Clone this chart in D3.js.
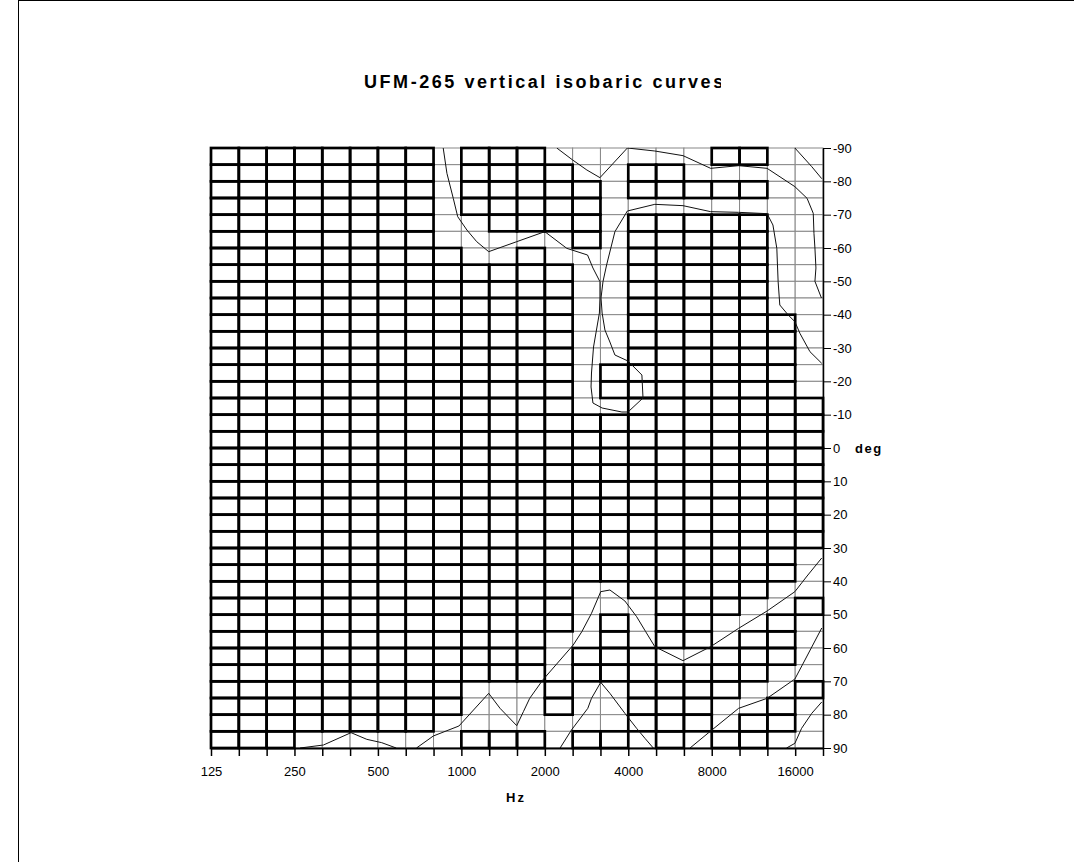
<!DOCTYPE html>
<html>
<head>
<meta charset="utf-8">
<script src="https://cdn.jsdelivr.net/npm/d3@7"></script>
<style>
  body { margin: 0; background: #fff; }
  svg { display: block; font-family: "Liberation Sans", Arial, sans-serif; }
</style>
</head>
<body>
<div id="chart"></div>
<script>
// third-octave frequency nodes (x categories) and angle nodes (y categories)
const freqs = [125, 160, 200, 250, 315, 400, 500, 630, 800, 1000, 1250, 1600, 2000,
    2500, 3150, 4000, 5000, 6300, 8000, 10000, 12500, 16000, 20000];
const freqLabels = [125, 250, 500, 1000, 2000, 4000, 8000, 16000];
const angles = [-90, -85, -80, -75, -70, -65, -60, -55, -50, -45, -40, -35, -30, -25,
    -20, -15, -10, -5, 0, 5, 10, 15, 20, 25, 30, 35, 40, 45, 50, 55, 60, 65, 70, 75, 80, 85, 90];
const angleTicks = [-90, -80, -70, -60, -50, -40, -30, -20, -10, 0, 10, 20, 30, 40, 50, 60, 70, 80, 90];

// band of every cell, one string per 5 deg row, one char per third-octave cell
// "#" = dark band (heavy wire), "." = light band (thin wire)
const cellBands = [
    "########.###......##..",
    "########.####..##.....",
    "########.#####.#####..",
    "########.#####........",
    "########..####.#####..",
    "########.....#.#####..",
    "#########..#...#####..",
    "#############..#####..",
    "#############..#####..",
    "#############..#####..",
    "#############..######.",
    "#############..######.",
    "#############..######.",
    "#############.#######.",
    "#############.#######.",
    "#############..#######",
    "######################",
    "######################",
    "######################",
    "######################",
    "######################",
    "######################",
    "######################",
    "######################",
    "#####################.",
    "#####################.",
    "#############..#####..",
    "#############...###..#",
    "#############.#.##..#.",
    "############..#.##.##.",
    "############.###..###.",
    "############.#######..",
    "#########...#..####..#",
    "#########...#..###..#.",
    "########.......###.##.",
    "###......###.##.#.##.."
];

// isobaric curves: [Hz, deg]
const curveA = [[860, -90], [887, -82.4], [935, -74.9], [970, -69.4], [1047, -65.4], [1136, -61.9],
    [1255, -58.9], [1584, -61.9], [2000, -64.9], [2400, -59.9], [2852, -57.9], [2983, -54],
    [3162, -49.9], [3162, -45], [3147, -40.5], [2997, -30.3], [2947, -22.5], [2936, -18.3],
    [2983, -13.5], [3219, -12], [3793, -10.8], [3990, -10.8], [4521, -15], [4479, -21.9],
    [3990, -26.1], [3580, -27.9], [3434, -31.8], [3295, -35.4], [3219, -40.5], [3190, -45],
    [3242, -49.9], [3341, -54.9], [3580, -64.9], [3970, -71.1], [4987, -73.1], [6303, -72.7],
    [7929, -70.9], [10000, -70.7], [12670, -70.3], [13300, -66.9], [13736, -59.9], [13888, -49.9],
    [14081, -42.9], [15102, -39.9], [15963, -37.9], [16641, -34.4], [18085, -28.9], [19948, -25.4]];
const curveB = [[2209, -90], [2520, -86.4], [2836, -83.4], [3162, -81.1], [3970, -90], [4987, -89.1],
    [6303, -87.7], [7929, -83.9], [10000, -84.7], [12670, -83.9], [15963, -78.4], [17662, -74.9],
    [18592, -70.4], [18700, -64.4], [18851, -60], [19008, -54], [18851, -50], [19900, -45]];
const curveC = [[15963, -90], [18361, -84.4], [19948, -80.8]];
const curveD = [[262, 90], [318, 89.1], [400, 85.4], [456, 87.4], [516, 88.4], [582, 90]];
const curveE = [[689, 90], [792, 86.4], [980, 83.4], [1255, 73.6], [1379, 78.1], [1584, 83.3],
    [1674, 79.1], [1764, 75.1], [1966, 69.6], [2532, 59.1], [2720, 55.1], [2947, 49.6],
    [3182, 43.1], [3434, 42.6], [3890, 45.9], [4287, 50.6], [4622, 55.1], [4987, 59.6],
    [6303, 63.8], [7929, 59.6], [10000, 54.1], [12670, 48.9], [15963, 43.1], [17662, 38.4], [19948, 33]];
const curveF = [[2271, 90], [2495, 84.6], [2858, 78.1], [2947, 75.1], [3182, 70.3], [3434, 73.6],
    [3890, 79.6], [4287, 84.1], [4595, 87.1], [4924, 90]];
const curveG = [[6681, 90], [7929, 84.9], [10000, 78.1], [12670, 75.1], [15963, 69.3], [17352, 63.6], [19948, 54]];
const curveH = [[14892, 90], [15963, 88.6], [16874, 84.1], [18361, 79.6], [19948, 76.2]];
const curves = [curveA, curveB, curveC, curveD, curveE, curveF, curveG, curveH];

const width = 1074, height = 862;
const plot = { left: 211, top: 148, right: 823, bottom: 748 };

const svg = d3.select("#chart").append("svg")
    .attr("width", width)
    .attr("height", height);

svg.append("rect")
    .attr("x", 18.5).attr("y", 0.5)
    .attr("width", 1100).attr("height", 900)
    .attr("fill", "#fff")
    .attr("stroke", "#000");

const defs = svg.append("defs");
defs.append("clipPath").attr("id", "plot-clip")
    .append("rect")
    .attr("x", plot.left).attr("y", plot.top)
    .attr("width", plot.right - plot.left).attr("height", plot.bottom - plot.top);

// the title is cut off at the right in the original
defs.append("clipPath").attr("id", "title-clip")
    .append("rect")
    .attr("x", 0).attr("y", 50).attr("width", 721).attr("height", 60);

const x = d3.scalePoint().domain(freqs).range([plot.left, plot.right]);
const xHz = d3.scaleLog().base(2)
    .domain([freqs[0], freqs[0] * Math.pow(2, (freqs.length - 1) / 3)])
    .range([plot.left, plot.right]);
const y = d3.scaleLinear().domain([-90, 90]).range([plot.top, plot.bottom]);

const cells = [];
cellBands.forEach((row, r) => {
    row.split("").forEach((ch, c) => cells.push({ r, c, dark: ch === "#" }));
});

const cellX = d => x(freqs[d.c]);
const cellY = d => y(angles[d.r]);
const cellW = d => x(freqs[d.c + 1]) - x(freqs[d.c]);
const cellH = d => y(angles[d.r + 1]) - y(angles[d.r]);

svg.append("g").attr("class", "cells-thin")
    .selectAll("rect")
    .data(cells)
    .join("rect")
    .attr("x", cellX).attr("y", cellY)
    .attr("width", cellW).attr("height", cellH)
    .attr("fill", "#fff")
    .attr("stroke", "#888")
    .attr("stroke-width", 1);

svg.append("g").attr("class", "cells-dark")
    .selectAll("rect")
    .data(cells.filter(d => d.dark))
    .join("rect")
    .attr("x", cellX).attr("y", cellY)
    .attr("width", cellW).attr("height", cellH)
    .attr("fill", "none")
    .attr("stroke", "#000")
    .attr("stroke-width", 2.7);

const line = d3.line()
    .x(d => xHz(d[0]))
    .y(d => y(d[1]));

svg.append("g").attr("clip-path", "url(#plot-clip)")
    .selectAll("path")
    .data(curves)
    .join("path")
    .attr("d", line)
    .attr("fill", "none")
    .attr("stroke", "#111")
    .attr("stroke-width", 1);

// right axis (deg)
const yAxis = svg.append("g")
    .attr("transform", `translate(${plot.right},0)`)
    .call(d3.axisRight(y).tickValues(angleTicks).tickSize(8).tickSizeOuter(0)
        .tickPadding(2).tickFormat(d => String(d)));
yAxis.select(".domain").attr("stroke", "#000").attr("stroke-width", 1.5);
yAxis.selectAll(".tick line").attr("stroke", "#000");
yAxis.selectAll("text")
    .attr("fill", "#000")
    .style("font-size", "13px")
    .style("font-family", "'Liberation Sans', Arial, sans-serif");

// bottom axis (Hz)
const xAxis = svg.append("g")
    .attr("transform", `translate(0,${plot.bottom})`)
    .call(d3.axisBottom(x).tickValues(freqs).tickSize(8).tickSizeOuter(0)
        .tickPadding(11).tickFormat(d => freqLabels.includes(d) ? String(d) : ""));
xAxis.select(".domain").attr("stroke", "#000").attr("stroke-width", 2);
xAxis.selectAll(".tick line").attr("stroke", "#000").attr("stroke-width", 1.5);
xAxis.selectAll("text")
    .attr("fill", "#000")
    .style("font-size", "13px")
    .style("font-family", "'Liberation Sans', Arial, sans-serif");

svg.append("text")
    .attr("x", (plot.left + plot.right) / 2 - 1)
    .attr("y", 802)
    .attr("text-anchor", "middle")
    .style("font-size", "13px")
    .style("font-weight", "bold")
    .style("letter-spacing", "2px")
    .text("Hz");

svg.append("text")
    .attr("x", 855)
    .attr("y", y(0) + 5)
    .style("font-size", "13px")
    .style("font-weight", "bold")
    .style("letter-spacing", "1.5px")
    .text("deg");

svg.append("text")
    .attr("x", 364)
    .attr("y", 88)
    .attr("clip-path", "url(#title-clip)")
    .style("font-size", "18px")
    .style("font-weight", "bold")
    .style("letter-spacing", "2.55px")
    .text("UFM-265 vertical isobaric curves");
</script>
</body>
</html>
